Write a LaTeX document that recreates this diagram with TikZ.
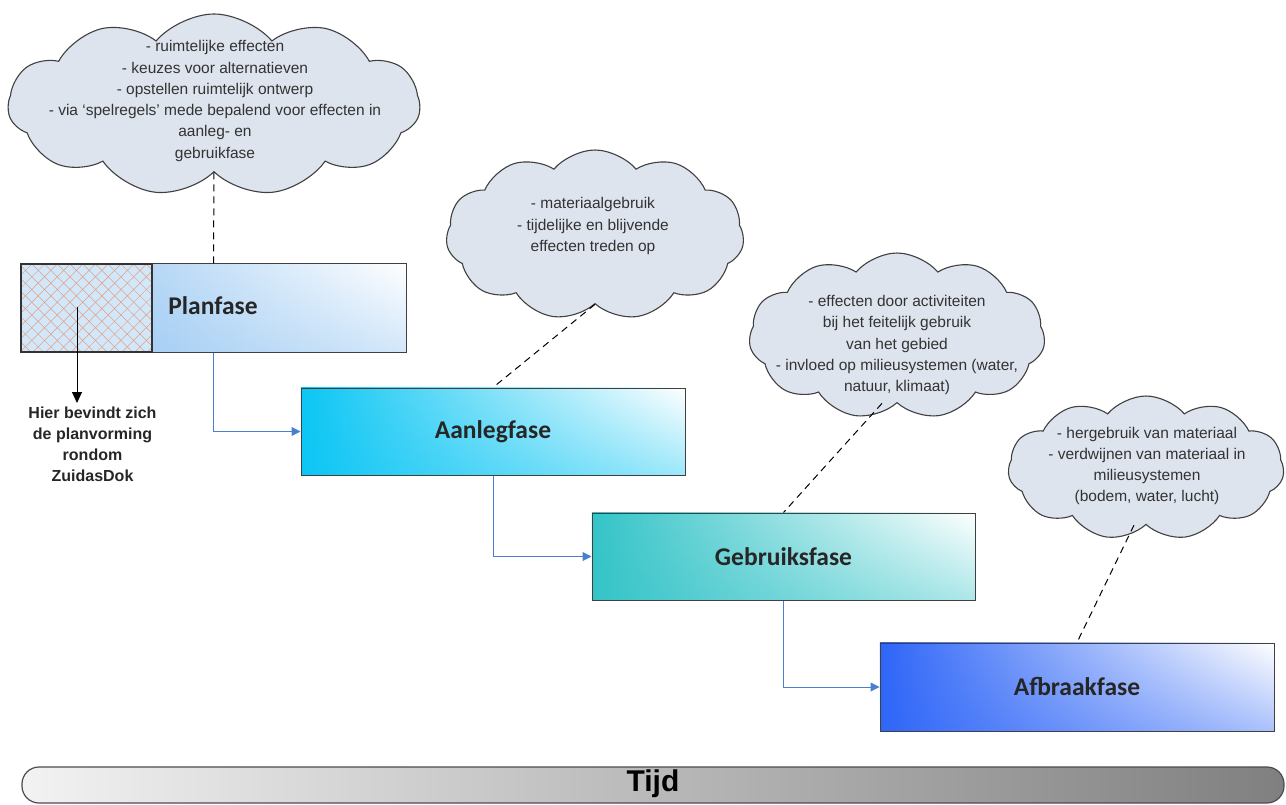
\documentclass[tikz,border=0pt]{standalone}
\usepackage{fontspec}
\setmainfont{Liberation Sans}
\newfontfamily\calfont{Carlito}
\usetikzlibrary{shapes.symbols,arrows.meta,patterns.meta,calc,fadings}
\definecolor{cloudfill}{HTML}{DDE4EE}
\definecolor{cloudline}{HTML}{404040}
\definecolor{cloudtext}{HTML}{333333}
\definecolor{planc}{HTML}{92C4F2}
\definecolor{aanc}{HTML}{0CC6F4}
\definecolor{gebc}{HTML}{34C4C8}
\definecolor{afbc}{HTML}{2F66F8}
\definecolor{conn}{HTML}{4A7FD0}
\definecolor{hatchc}{HTML}{E0A080}
\tikzset{
  cloudbox/.style={cloud, cloud puffs=11, cloud puff arc=100, cloud ignores aspect,
    draw=cloudline, line width=1.1pt, fill=cloudfill, inner sep=0pt},
  cloudtxt/.style={align=center, text=cloudtext, font=\fontsize{15.5}{21.3}\selectfont},
  phase/.style={line width=1pt, inner sep=0pt, font=\calfont\bfseries\fontsize{25.5}{30}\selectfont,
    text=black!85},
  phasefill/.style={left color=#1, right color=#1!40!white,
    postaction={left color=#1, right color=white, path fading=south},
    postaction={draw=black!75, line width=1pt}},
  dashline/.style={draw=black, line width=1pt, dash pattern=on 7pt off 5pt},
  flow/.style={draw=conn, line width=1pt, -{Triangle[width=9pt,length=9pt]}},
}
\begin{document}
\begin{tikzpicture}[x=1pt,y=-1pt]
\useasboundingbox (0,0) rectangle (1286,805);
% clouds
\node[cloudbox, minimum width=412pt, minimum height=182pt] (cl1) at (214,105) {};
\node[cloudtxt] (t1) at (215,101) {- ruimtelijke effecten\\- keuzes voor alternatieven\\- opstellen ruimtelijk ontwerp\\- via `spelregels' mede bepalend voor effecten in\\aanleg- en\\gebruikfase};
\node[cloudbox, minimum width=298pt, minimum height=170pt] (cl2) at (595,235) {};
\node[cloudtxt] (t2) at (593,226) {- materiaalgebruik\\- tijdelijke en blijvende\\effecten treden op};
\node[cloudbox, minimum width=296pt, minimum height=166pt] (cl3) at (897,336) {};
\node[cloudtxt] (t3) at (897,345) {- effecten door activiteiten\\bij het feitelijk gebruik\\van het gebied\\- invloed op milieusystemen (water,\\natuur, klimaat)};
\node[cloudbox, minimum width=276pt, minimum height=144pt] (cl4) at (1146,468) {};
\node[cloudtxt] (t4) at (1147,466) {- hergebruik van materiaal\\- verdwijnen van materiaal in\\milieusystemen\\(bodem, water, lucht)};
% phase boxes
\node[phase, minimum width=385pt, minimum height=88pt, phasefill=planc] (plan) at (213.5,308) {};
\node[line width=1.2pt, minimum width=131pt, minimum height=88pt, inner sep=0pt, fill=planc!40!white,
  postaction={pattern={Lines[angle=45,distance=9pt,line width=0.5pt]}, pattern color=hatchc},
  postaction={pattern={Lines[angle=-45,distance=9pt,line width=0.5pt]}, pattern color=hatchc},
  postaction={draw=black!80, line width=1.2pt}] (hatch) at (86.5,308) {};
\node[font=\calfont\bfseries\fontsize{25.5}{30}\selectfont, text=black!85] (plant) at (213,306) {Planfase};
\node[phase, minimum width=384pt, minimum height=87pt, phasefill=aanc] (aan) at (493,431.5) {Aanlegfase};
\node[phase, minimum width=383pt, minimum height=87pt, phasefill=gebc] (geb) at (783.5,556.5) {Gebruiksfase};
\node[phase, minimum width=394pt, minimum height=88pt, phasefill=afbc] (afb) at (1077,687) {Afbraakfase};
% dashed links
\draw[dashline] (cl1.south) -- (plan.north);
\draw[dashline] (cl2.south) -- (aan.north);
\draw[dashline] ($(cl3.south)+(-15,0)$) coordinate (c3s) -- (geb.north);
\draw[dashline] ($(cl4.south)+(-12,0)$) coordinate (c4s) -- (afb.north);
% flow connectors
\draw[flow] (plan.south) |- (aan.west);
\draw[flow] (aan.south) |- (geb.west);
\draw[flow] (geb.south) |- (afb.west);
% note arrow
\coordinate (hs) at (77,307);
\node[align=center, font=\bfseries\fontsize{16}{21}\selectfont, text=black!85, anchor=north] (note) at (92.5,403) {Hier bevindt zich\\de planvorming\\rondom\\ZuidasDok};
\draw[black, line width=1pt, -{Triangle[width=10pt,length=11pt]}] (hs) -- (hs |- note.north);
% time bar
\node[draw=black!70, line width=1.2pt, rounded corners=17pt, minimum width=1262pt, minimum height=36pt, inner sep=0pt,
  left color=white!95!black, right color=black!50] (bar) at (653,785) {};
\node[font=\bfseries\fontsize{30}{34}\selectfont, text=black] (tijd) at (653,784) {Tijd};
\end{tikzpicture}
\end{document}
